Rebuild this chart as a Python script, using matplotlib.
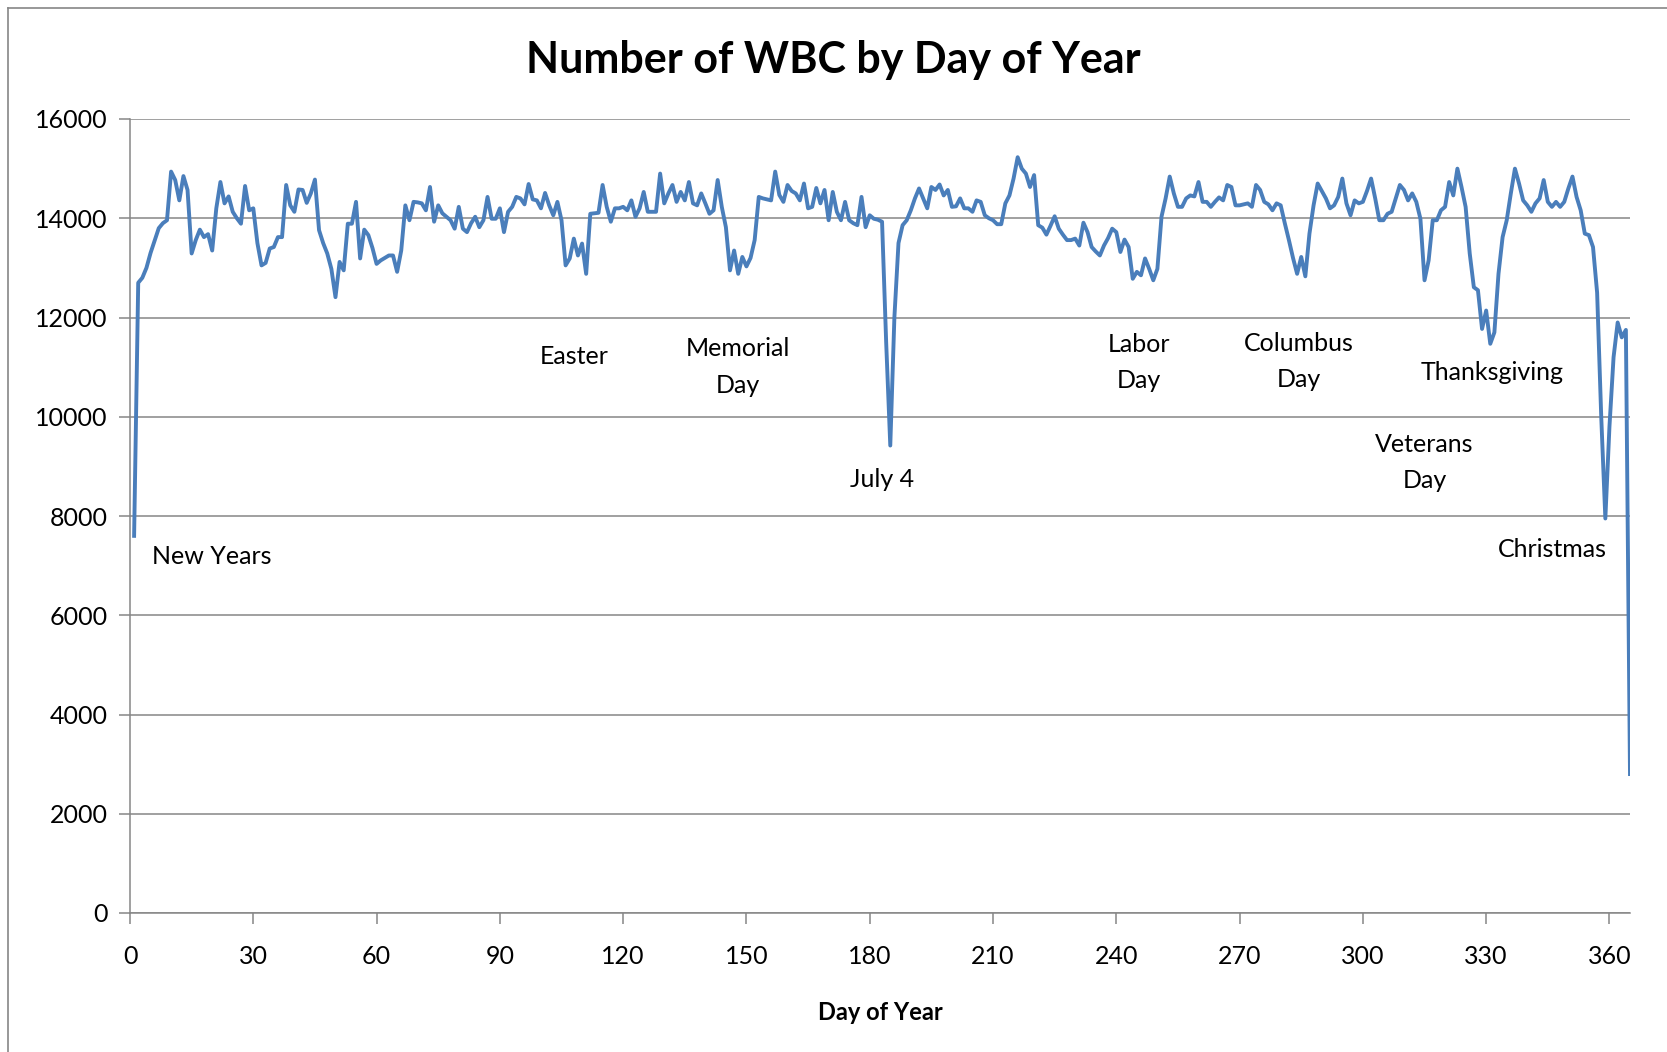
import matplotlib
matplotlib.use("Agg")
import matplotlib.pyplot as plt
from matplotlib.lines import Line2D

plt.rcParams['font.family'] = ['Lato', 'DejaVu Sans']

# WBC counts per day of year
wbc = [
    7600, 12700, 12800, 13000, 13300, 13550, 13800, 13900, 13960, 14940,
    14770, 14360, 14850, 14570, 13290, 13560, 13770, 13620, 13680, 13350,
    14200, 14730, 14300, 14440, 14130, 14000, 13890, 14650, 14160, 14200,
    13500, 13050, 13100, 13390, 13420, 13620, 13620, 14670, 14260, 14130,
    14580, 14570, 14310, 14500, 14780, 13760, 13500, 13290, 12980, 12410,
    13120, 12950, 13890, 13890, 14330, 13190, 13770, 13660, 13400, 13080,
    13150, 13200, 13250, 13250, 12920, 13350, 14260, 13960, 14330, 14320,
    14300, 14160, 14630, 13930, 14260, 14100, 14030, 13960, 13790, 14230,
    13790, 13720, 13900, 14030, 13820, 13960, 14430, 13990, 13990, 14200,
    13720, 14130, 14230, 14430, 14400, 14280, 14690, 14380, 14360, 14200,
    14510, 14260, 14060, 14330, 13960, 13050, 13190, 13590, 13250, 13490,
    12880, 14090, 14100, 14110, 14670, 14230, 13930, 14200, 14200, 14230,
    14160, 14360, 14030, 14200, 14530, 14130, 14130, 14130, 14900, 14300,
    14500, 14670, 14330, 14530, 14360, 14730, 14300, 14260, 14500, 14300,
    14090, 14160, 14770, 14230, 13820, 12950, 13350, 12880, 13220, 13030,
    13200, 13560, 14430, 14400, 14380, 14360, 14940, 14470, 14330, 14670,
    14550, 14500, 14360, 14700, 14200, 14230, 14610, 14300, 14570, 13960,
    14530, 14130, 13960, 14330, 13960, 13900, 13860, 14430, 13820, 14060,
    13990, 13970, 13930, 11500, 9420, 12000, 13500, 13860, 13960, 14160,
    14400, 14600, 14400, 14200, 14630, 14570, 14680, 14460, 14570, 14230,
    14240, 14400, 14200, 14200, 14130, 14360, 14330, 14060, 14000, 13960,
    13880, 13880, 14300, 14460, 14800, 15230, 15000, 14900, 14630, 14870,
    13860, 13810, 13670, 13850, 14040, 13790, 13670, 13560, 13560, 13590,
    13450, 13910, 13720, 13420, 13330, 13250, 13450, 13600, 13790, 13720,
    13320, 13570, 13420, 12780, 12920, 12850, 13190, 12980, 12750, 12980,
    14030, 14400, 14840, 14500, 14230, 14230, 14400, 14460, 14440, 14730,
    14330, 14330, 14230, 14330, 14420, 14360, 14670, 14630, 14260, 14260,
    14280, 14300, 14230, 14670, 14570, 14330, 14280, 14160, 14300, 14260,
    13900, 13560, 13200, 12880, 13220, 12830, 13690, 14260, 14700, 14550,
    14400, 14200, 14260, 14430, 14800, 14300, 14060, 14360, 14300, 14330,
    14550, 14800, 14400, 13960, 13960, 14090, 14130, 14400, 14670, 14570,
    14360, 14500, 14330, 13990, 12750, 13150, 13960, 13960, 14160, 14230,
    14730, 14460, 15000, 14630, 14230, 13290, 12610, 12550, 11770, 12140,
    11470, 11700, 12880, 13620, 13960, 14500, 15000, 14700, 14360, 14260,
    14130, 14300, 14400, 14770, 14330, 14230, 14330, 14230, 14330, 14600,
    14840, 14430, 14160, 13690, 13660, 13420, 12500, 10000, 7950, 9800,
    11200, 11900, 11600, 11750, 2800,
]
days = list(range(1, len(wbc) + 1))

# holiday labels and where they sit on the chart
holidays = ['New Years', 'Easter', 'Memorial\nDay', 'July 4', 'Labor\nDay',
            'Columbus\nDay', 'Thanksgiving', 'Veterans\nDay', 'Christmas']
label_x = [20, 108, 148, 183, 245.5, 284.5, 331.5, 315, 346]
label_y = [7190, 11220, 11000, 8730, 11100, 11120, 10900, 9080, 7320]

fig = plt.figure(figsize=(16.67, 10.52), dpi=100)
ax = fig.add_axes([130 / 1667, 1 - 913 / 1052, 1500 / 1667, 794 / 1052])

ax.plot(days, wbc, color='#4a7ebb', linewidth=2.8)

ax.set_xlim(0, 365)
ax.set_ylim(0, 16000)
ax.set_xticks(range(0, 361, 30))
ax.set_yticks(range(0, 16001, 2000))
ax.grid(axis='y', color='#868686', linewidth=1.1)
ax.set_axisbelow(True)

for s in ['top', 'right']:
    ax.spines[s].set_visible(False)
for s in ['left', 'bottom']:
    ax.spines[s].set_color('#868686')
    ax.spines[s].set_linewidth(1.1)
ax.tick_params(axis='both', colors='#868686', length=8, width=1.1,
               labelcolor='black', labelsize=18)
ax.tick_params(axis='y', pad=8)
ax.tick_params(axis='x', pad=15)

for name, x, y in zip(holidays, label_x, label_y):
    ax.text(x, y, name, ha='center', va='center', fontsize=18,
            linespacing=1.7)

ax.set_xlabel('Day of Year', fontsize=17, fontweight='bold', labelpad=24)
fig.suptitle('Number of WBC by Day of Year', fontsize=31, fontweight='bold',
             y=1 - 60 / 1052, va='center')

# chart area border
fig.add_artist(Line2D([8 / 1667, 8 / 1667], [0, 1 - 8 / 1052],
                      color='#868686', linewidth=1.2))
fig.add_artist(Line2D([8 / 1667, 1], [1 - 8 / 1052, 1 - 8 / 1052],
                      color='#868686', linewidth=1.2))

fig.savefig('out.png', dpi=100)
